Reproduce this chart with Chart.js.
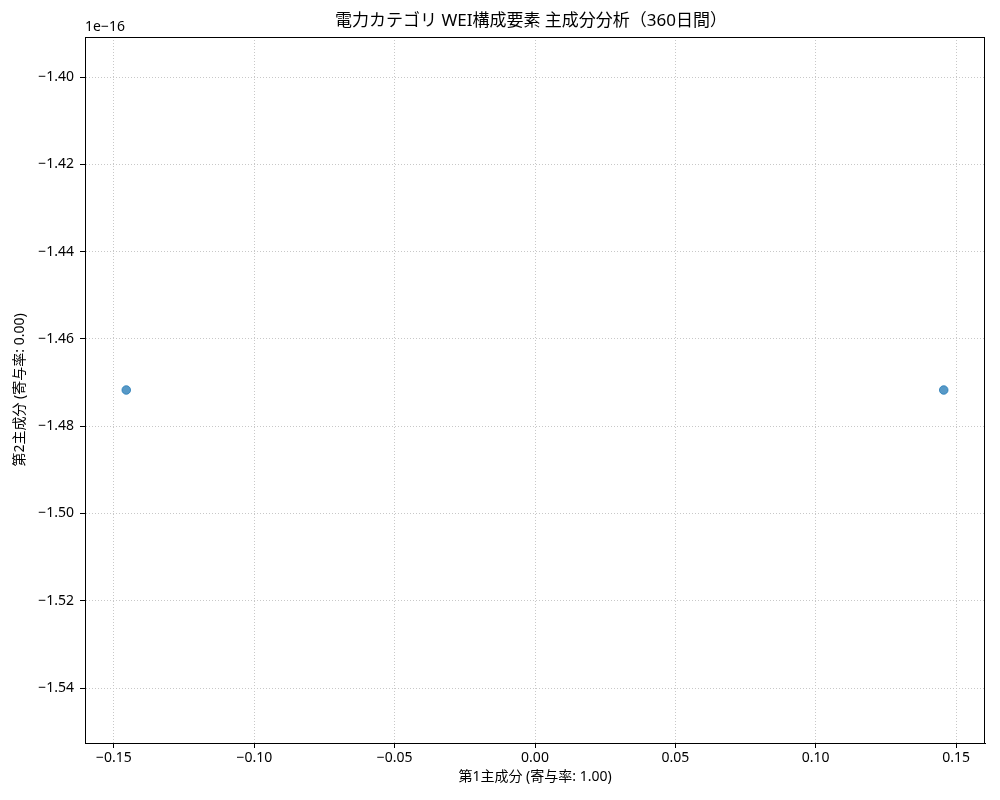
<!DOCTYPE html>
<html lang="ja">
<head>
<meta charset="UTF-8">
<title>主成分分析</title>
<style>
  body { margin: 0; background: #fff; }
  #wrap { width: 1000px; height: 800px; }
</style>
</head>
<body>
<div id="wrap"><canvas id="pca" width="1000" height="800"></canvas></div>
<script src="https://cdn.jsdelivr.net/npm/chart.js"></script>
<script>
// data (y values are shown in units of 1e-16, as the axis offset label says)
const pc1 = [-0.1456, 0.1456];
const pc2 = [-1.4717, -1.4717];
const yOffsetLabel = '1e\u221216';
const xTicks = [-0.15, -0.10, -0.05, 0.00, 0.05, 0.10, 0.15];
const yTicks = [-1.54, -1.52, -1.50, -1.48, -1.46, -1.44, -1.42, -1.40];

const chartTitle = '電力カテゴリ WEI構成要素 主成分分析（360日間）';
const xLabel = '第1主成分 (寄与率: 1.00)';
const yLabel = '第2主成分 (寄与率: 0.00)';

const FONT = "'Noto Sans', 'Noto Sans CJK JP', sans-serif";

function fmt(v) {
  if (Math.abs(v) < 1e-9) return '0.00';
  return (v < 0 ? '\u2212' : '') + Math.abs(v).toFixed(2);
}

const points = pc1.map((x, i) => ({ x: x, y: pc2[i] }));

// frame, title and offset text
const extras = {
  id: 'extras',
  afterDraw(chart) {
    const ctx = chart.ctx, a = chart.chartArea;
    ctx.save();
    ctx.strokeStyle = '#000';
    ctx.lineWidth = 1;
    ctx.strokeRect(a.left + 0.5, a.top + 0.5, a.right - a.left - 1, a.bottom - a.top);
    ctx.fillStyle = '#000';
    ctx.textBaseline = 'middle';
    ctx.font = '17px ' + FONT;
    ctx.textAlign = 'center';
    ctx.fillText(chartTitle, (a.left + a.right) / 2 - 4, 21);
    ctx.font = '14px ' + FONT;
    ctx.textAlign = 'left';
    ctx.fillText(yOffsetLabel, a.left, 27);
    ctx.restore();
  }
};

const grid = {
  color: '#c8c8c8',
  lineWidth: 1,
  tickColor: '#000',
  tickBorderDash: [],
  tickWidth: 1,
  tickLength: 5,
  drawOnChartArea: true
};
const border = { display: true, color: '#000', width: 1, dash: [1, 2] };

new Chart(document.getElementById('pca'), {
  type: 'scatter',
  data: {
    datasets: [{
      data: points,
      backgroundColor: 'rgba(31,119,180,0.75)',
      borderColor: 'rgba(31,119,180,0.75)',
      borderWidth: 1,
      pointRadius: 4.3,
      pointHoverRadius: 4.3
    }]
  },
  options: {
    responsive: false,
    animation: false,
    devicePixelRatio: 1,
    layout: { padding: { top: 37, right: 15, left: 12, bottom: 15 } },
    plugins: {
      legend: { display: false },
      tooltip: { enabled: false },
      title: { display: false }
    },
    scales: {
      x: {
        type: 'linear',
        min: -0.1603,
        max: 0.1603,
        grid: grid,
        border: border,
        afterBuildTicks: s => { s.ticks = xTicks.map(v => ({ value: v })); },
        afterFit: s => { s.height = 800 - 743 - 15; },
        ticks: {
          color: '#000',
          font: { family: FONT, size: 14 },
          padding: 2,
          maxRotation: 0,
          autoSkip: false,
          callback: v => fmt(v)
        },
        title: {
          display: true,
          text: xLabel,
          color: '#000',
          font: { family: FONT, size: 14 },
          padding: 0
        }
      },
      y: {
        type: 'linear',
        min: -1.5526,
        max: -1.3908,
        grid: grid,
        border: border,
        afterBuildTicks: s => { s.ticks = yTicks.map(v => ({ value: v })); },
        afterFit: s => { s.width = 85 - 12; },
        ticks: {
          color: '#000',
          font: { family: FONT, size: 14 },
          padding: 6,
          autoSkip: false,
          callback: v => fmt(v)
        },
        title: {
          display: true,
          text: yLabel,
          color: '#000',
          font: { family: FONT, size: 14 },
          padding: 0
        }
      }
    }
  },
  plugins: [extras]
});
</script>
</body>
</html>
